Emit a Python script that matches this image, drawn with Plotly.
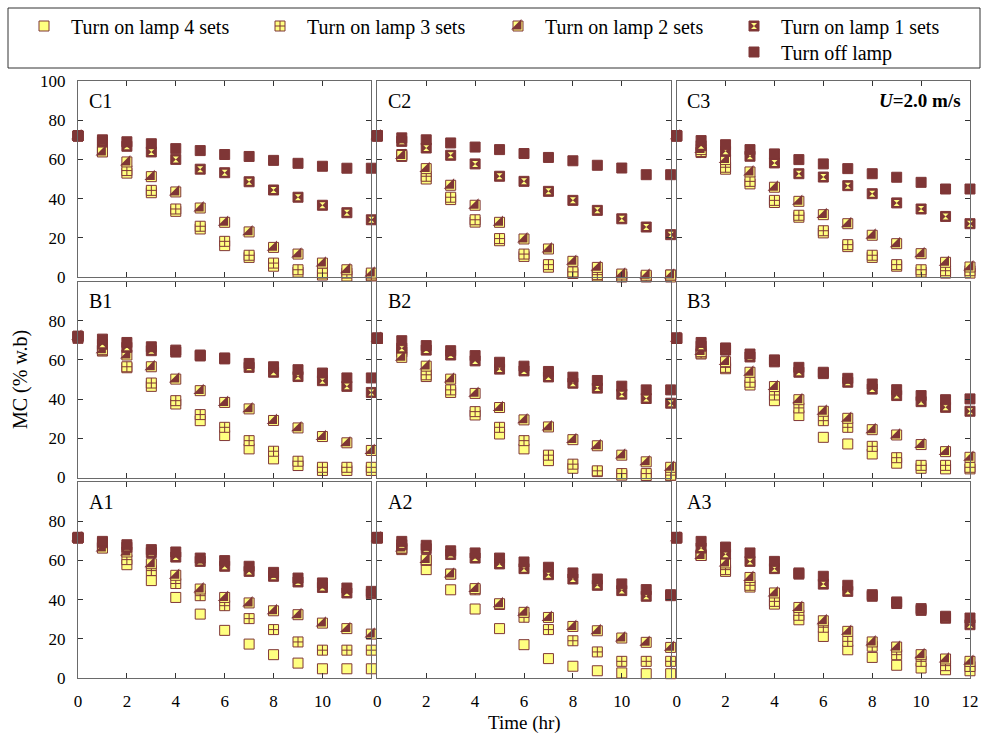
import plotly.graph_objects as go
from plotly.subplots import make_subplots

# ---------------- data ----------------
hours = list(range(13))
series_names = ["Turn on lamp 4 sets", "Turn on lamp 3 sets", "Turn on lamp 2 sets",
                "Turn on lamp 1 sets", "Turn off lamp"]
panel_grid = [["C1", "C2", "C3"], ["B1", "B2", "B3"], ["A1", "A2", "A3"]]

C1_off = [72, 70, 69, 68, 65.5, 64.5, 62.5, 61.5, 59.5, 58, 56.5, 55.5, 55.5]
C1_one = [72, 69, 66.7, 63.8, 60, 55, 53.2, 48.6, 44.4, 40.7, 36.6, 32.8, 29.2]
C1_two = [72, 63.8, 58.7, 51.2, 43.4, 35.2, 27.9, 23, 15.1, 11.7, 7.1, 3.7, 2]
C1_three = [72, 65, 54.3, 44.2, 34.7, 25.9, 18.2, 11.1, 7.1, 3.7, 2, 2, 1]
C1_four = [72, 64, 53, 43, 33.5, 24.5, 16, 10, 5.5, 2.5, 1, 0.5, 0.5]

C2_off = [72, 71, 70, 68.4, 66.3, 65, 63, 61, 59.3, 57, 55.6, 52.2, 52.2]
C2_one = [72, 69.2, 65.8, 62.1, 57.7, 51.4, 48.8, 43.7, 39.1, 34, 29.7, 25.5, 21.6]
C2_two = [72, 62, 55.3, 46.8, 36.6, 27.9, 19.4, 14.3, 8, 4.9, 1.5, 0.9, 1]
C2_three = [72, 62.5, 51.4, 40.7, 29.2, 19.6, 11.7, 6.3, 2.6, 1.2, 0.5, 0.3, 1]
C2_four = [72, 61.5, 50, 39.5, 28, 18.5, 10.5, 5, 1.8, 0.5, 0, 0, 0]

C3_off = [72, 69.6, 67.5, 65, 62.8, 59.9, 57.7, 55.3, 52.7, 50.9, 48.3, 44.9, 44.9]
C3_one = [72, 67, 64.1, 61.6, 58.2, 52.7, 51, 46.6, 42.5, 37.8, 34.7, 30.9, 27.2]
C3_two = [72, 65, 59.9, 53.6, 45.8, 38.6, 31.8, 27.2, 21.3, 17, 11.9, 7.5, 5.1]
C3_three = [72, 64, 56, 48.8, 39.1, 31.5, 23.6, 16.5, 11.1, 6.3, 3.7, 3.2, 3.2]
C3_four = [72, 63.5, 55, 47.5, 38, 30.5, 22.5, 15.5, 10, 5.5, 2.5, 2, 2]

B1_off = [72, 70.6, 68.9, 66.7, 65, 62.5, 61, 58.2, 56.5, 55, 53.3, 50.8, 50.8]
B1_one = [71, 68, 66.4, 64.7, 64, 62, 60.5, 56.2, 53.7, 51.5, 49.4, 46.5, 43.4]
B1_two = [72, 65.2, 62.5, 56.5, 50.2, 44.3, 38.3, 35, 29.1, 25.3, 20.9, 17.7, 13.8]
B1_three = [72, 65, 56.5, 48.2, 39.2, 32.1, 25.6, 18.8, 13.4, 8.3, 5.2, 5.2, 5.2]
B1_four = [72, 64.5, 56, 46.5, 37.5, 29, 21.4, 14.6, 9.5, 6.1, 3.6, 3.6, 3.6]

B2_off = [71.2, 69.8, 67.3, 64.7, 62.2, 58.8, 56.8, 54.1, 51.2, 49.5, 46.6, 44.7, 44.7]
B2_one = [71, 66, 65, 62.5, 59.5, 55.3, 54.4, 51.3, 48.1, 45.6, 42.5, 40.3, 37.9]
B2_two = [71, 61.3, 56.8, 50.2, 42.9, 35.7, 29.4, 25.8, 19.3, 16.2, 11.4, 8, 5.2]
B2_three = [71, 64.9, 52.4, 44.7, 33.6, 25.6, 18.8, 11.4, 6.8, 3.4, 2, 2, 1.2]
B2_four = [71, 64, 51.5, 43.4, 31.9, 22.2, 14.6, 8.6, 4.7, 3, 1.2, 1, 1]

B3_off = [71.2, 68.9, 66.1, 63, 60, 56.2, 53.7, 50.6, 47.7, 44.8, 41.8, 39.7, 40.1]
B3_one = [71, 67, 65, 61.5, 59, 53.7, 53, 48.6, 45.1, 41.8, 38.7, 35.8, 33.8]
B3_two = [71, 64.2, 59.1, 53.7, 46.4, 39.7, 33.8, 30.2, 24.4, 21.7, 16.8, 13.2, 10.3]
B3_three = [71, 63.5, 56.2, 48.6, 42.1, 35.5, 29, 25.6, 15.9, 10.1, 6.2, 6.2, 5.2]
B3_four = [71, 63, 55.5, 47.2, 39.2, 31.6, 20.5, 17.1, 12, 7.3, 4.7, 4.4, 4.4]

A1_off = [71.8, 69.7, 68, 65.5, 64.3, 61.2, 59.9, 57, 53.9, 51, 48.5, 45.9, 44.2]
A1_one = [71.5, 69, 66.7, 64, 61.7, 59.5, 57, 54.4, 51.9, 49, 46.2, 43.4, 43]
A1_two = [71.5, 66.3, 64.3, 58.3, 52.4, 45.4, 41.1, 38.3, 34.3, 32.3, 28, 25.2, 22.4]
A1_three = [71.5, 67, 60.4, 54.8, 48.2, 42, 36.9, 30.3, 24.7, 18.4, 14.2, 14.2, 14.2]
A1_four = [71.5, 66.5, 57.8, 49.7, 41.1, 32.6, 24.3, 17.3, 11.9, 7.6, 4.7, 4.7, 4.7]

A2_off = [71.8, 69.7, 67.7, 64.9, 63.8, 61.2, 59.2, 56.5, 53.6, 50.5, 48, 45.1, 42.5]
A2_one = [71.5, 68, 66, 63, 61.2, 58.2, 55.8, 52.7, 50.5, 47.3, 44.6, 41.7, 42]
A2_two = [71.5, 66.3, 60.4, 53, 45.6, 37.9, 33.5, 30.9, 26.3, 24.1, 20.4, 18.2, 15.6]
A2_three = [71.5, 66, 60, 53, 45, 37.5, 31, 24.7, 19, 13.3, 8.5, 8.5, 8.5]
A2_four = [71.5, 65.5, 55.3, 45, 35.2, 25.2, 17, 9.9, 6, 3.7, 2.6, 2.2, 2.2]

A3_off = [71.8, 69.7, 66.8, 63.8, 59.5, 53.6, 51.9, 47.3, 42.5, 38.8, 35.4, 31.5, 30.6]
A3_one = [71.5, 66.3, 63.2, 59.5, 55.8, 53, 47.9, 44.2, 41.7, 38, 34.5, 30.5, 27.2]
A3_two = [71.5, 62.5, 58.7, 51.3, 43.4, 36, 29.2, 23.8, 18.4, 15.8, 11.9, 9.7, 8.5]
A3_three = [71.5, 63, 55.3, 47.3, 39.1, 32, 25.9, 18.7, 16.2, 11.9, 8.5, 6.3, 5.9]
A3_four = [71.5, 62.5, 54.4, 46.4, 37.7, 29.7, 21.2, 14.4, 10.5, 6.5, 5.1, 4.2, 3.7]

panels = {
    "C1": [C1_four, C1_three, C1_two, C1_one, C1_off],
    "C2": [C2_four, C2_three, C2_two, C2_one, C2_off],
    "C3": [C3_four, C3_three, C3_two, C3_one, C3_off],
    "B1": [B1_four, B1_three, B1_two, B1_one, B1_off],
    "B2": [B2_four, B2_three, B2_two, B2_one, B2_off],
    "B3": [B3_four, B3_three, B3_two, B3_one, B3_off],
    "A1": [A1_four, A1_three, A1_two, A1_one, A1_off],
    "A2": [A2_four, A2_three, A2_two, A2_one, A2_off],
    "A3": [A3_four, A3_three, A3_two, A3_one, A3_off],
}

# ---------------- style ----------------
W, H = 981, 733
ML, MR, MT, MB = 78, 11, 81, 55
PW, PH = W - ML - MR, H - MT - MB
BROWN = "#7f3636"
YELLOW = "#ffff80"
FONT = "Liberation Serif, Times New Roman, serif"
SZ = 10
# five legend boxes for the five series + two overlay legends for composite icons
LEG_IDS = ["legend", "legend2", "legend3", "legend4", "legend5", "legend6", "legend7"]

fig = make_subplots(rows=3, cols=3, horizontal_spacing=6 / PW, vertical_spacing=4.5 / PH)


def add(row, col, y, name, **kw):
    fig.add_trace(go.Scatter(x=hours, y=y, mode="markers", name=name, cliponaxis=False,
                             hoverinfo="skip", **kw), row=row, col=col)


for r, rowp in enumerate(panel_grid, start=1):
    for c, pname in enumerate(rowp, start=1):
        four, three, two, one, off = panels[pname]
        first = (r == 1 and c == 1)
        add(r, c, four, series_names[0], showlegend=first, legendgroup="g4", legend=LEG_IDS[0],
            marker=dict(symbol="square", size=SZ, color=YELLOW, line=dict(color=BROWN, width=1)))
        add(r, c, three, series_names[1], showlegend=first, legendgroup="g3", legend=LEG_IDS[1],
            marker=dict(symbol="square-cross", size=SZ, color=YELLOW, line=dict(color=BROWN, width=1)))
        add(r, c, two, series_names[2], showlegend=first, legendgroup="g2", legend=LEG_IDS[2],
            marker=dict(symbol="square", size=SZ, color=YELLOW, line=dict(color=BROWN, width=1)))
        add(r, c, two, " ", showlegend=first, legendgroup="g2o", legend=LEG_IDS[5],
            marker=dict(symbol="triangle-se", size=SZ * 1.15, color=BROWN, line=dict(width=0)))
        add(r, c, one, series_names[3], showlegend=first, legendgroup="g1", legend=LEG_IDS[3],
            marker=dict(symbol="square", size=SZ, color=BROWN, line=dict(color=BROWN, width=1)))
        add(r, c, one, " ", showlegend=first, legendgroup="g1o", legend=LEG_IDS[6],
            marker=dict(symbol="hourglass", size=6, color=YELLOW, line=dict(width=0)))
        add(r, c, off, series_names[4], showlegend=first, legendgroup="g0", legend=LEG_IDS[4],
            marker=dict(symbol="square", size=SZ, color=BROWN, line=dict(color=BROWN, width=1)))

        xt = list(range(0, 13, 2)) if c == 3 else list(range(0, 11, 2))
        yt = list(range(0, 101, 20)) if r == 1 else list(range(0, 81, 20))
        fig.update_xaxes(row=r, col=c, range=[0, 12], tickvals=xt, showticklabels=(r == 3),
                         showline=True, mirror="ticks", linecolor="#6a6a6a", linewidth=1,
                         ticks="inside", ticklen=5, tickcolor="#333", showgrid=False, zeroline=False,
                         tickfont=dict(family=FONT, size=17, color="black"), ticklabelstandoff=8)
        fig.update_yaxes(row=r, col=c, range=[0, 100], tickvals=yt, showticklabels=(c == 1),
                         showline=True, mirror="ticks", linecolor="#6a6a6a", linewidth=1,
                         ticks="inside", ticklen=5, tickcolor="#333", showgrid=False, zeroline=False,
                         tickfont=dict(family=FONT, size=17, color="black"), ticklabelstandoff=8)
        idx = (r - 1) * 3 + c
        xr = "x" if idx == 1 else f"x{idx}"
        yr = "y" if idx == 1 else f"y{idx}"
        fig.add_annotation(xref=f"{xr} domain", yref=f"{yr} domain", x=0.03, y=0.965,
                           xanchor="left", yanchor="top", text=pname, showarrow=False,
                           font=dict(family=FONT, size=20, color="black"))
        if pname == "C3":
            fig.add_annotation(xref=f"{xr} domain", yref=f"{yr} domain", x=0.975, y=0.965,
                               xanchor="right", yanchor="top", text="<b><i>U</i>=2.0 m/s</b>",
                               showarrow=False, font=dict(family=FONT, size=19, color="black"))

# axis titles
fig.add_annotation(xref="paper", yref="paper", x=(20 - ML) / PW, y=(H - MB - 380) / PH,
                   text="MC (% w.b)", textangle=-90, showarrow=False,
                   xanchor="center", yanchor="middle", font=dict(family=FONT, size=20, color="black"))
fig.add_annotation(xref="paper", yref="paper", x=(524 - ML) / PW, y=(H - MB - 723) / PH,
                   text="Time (hr)", showarrow=False,
                   xanchor="center", yanchor="middle", font=dict(family=FONT, size=19, color="black"))

# legend frame
fig.add_shape(type="rect", xref="paper", yref="paper",
              x0=(8 - ML) / PW, x1=(980 - ML) / PW, y0=(H - MB - 68) / PH, y1=(H - MB - 8) / PH,
              line=dict(color="#333", width=1), fillcolor="rgba(0,0,0,0)")

leg_common = dict(orientation="h", xref="container", yref="container", xanchor="left",
                  yanchor="middle", font=dict(family=FONT, size=20, color="black"),
                  bgcolor="rgba(0,0,0,0)", borderwidth=0, itemwidth=44)

# legend item left edges (pixels) and row centres
leg_x = [17, 253, 491, 727, 727, 491, 727]
leg_y = [26, 26, 26, 26, 52, 26, 26]
legends = {lid: dict(x=lx / W, y=1 - ly / H, **leg_common)
           for lid, lx, ly in zip(LEG_IDS, leg_x, leg_y)}

fig.update_layout(
    width=W, height=H, margin=dict(l=ML, r=MR, t=MT, b=MB, autoexpand=False),
    paper_bgcolor="white", plot_bgcolor="white",
    **legends,
)

fig.write_html("out.html")
